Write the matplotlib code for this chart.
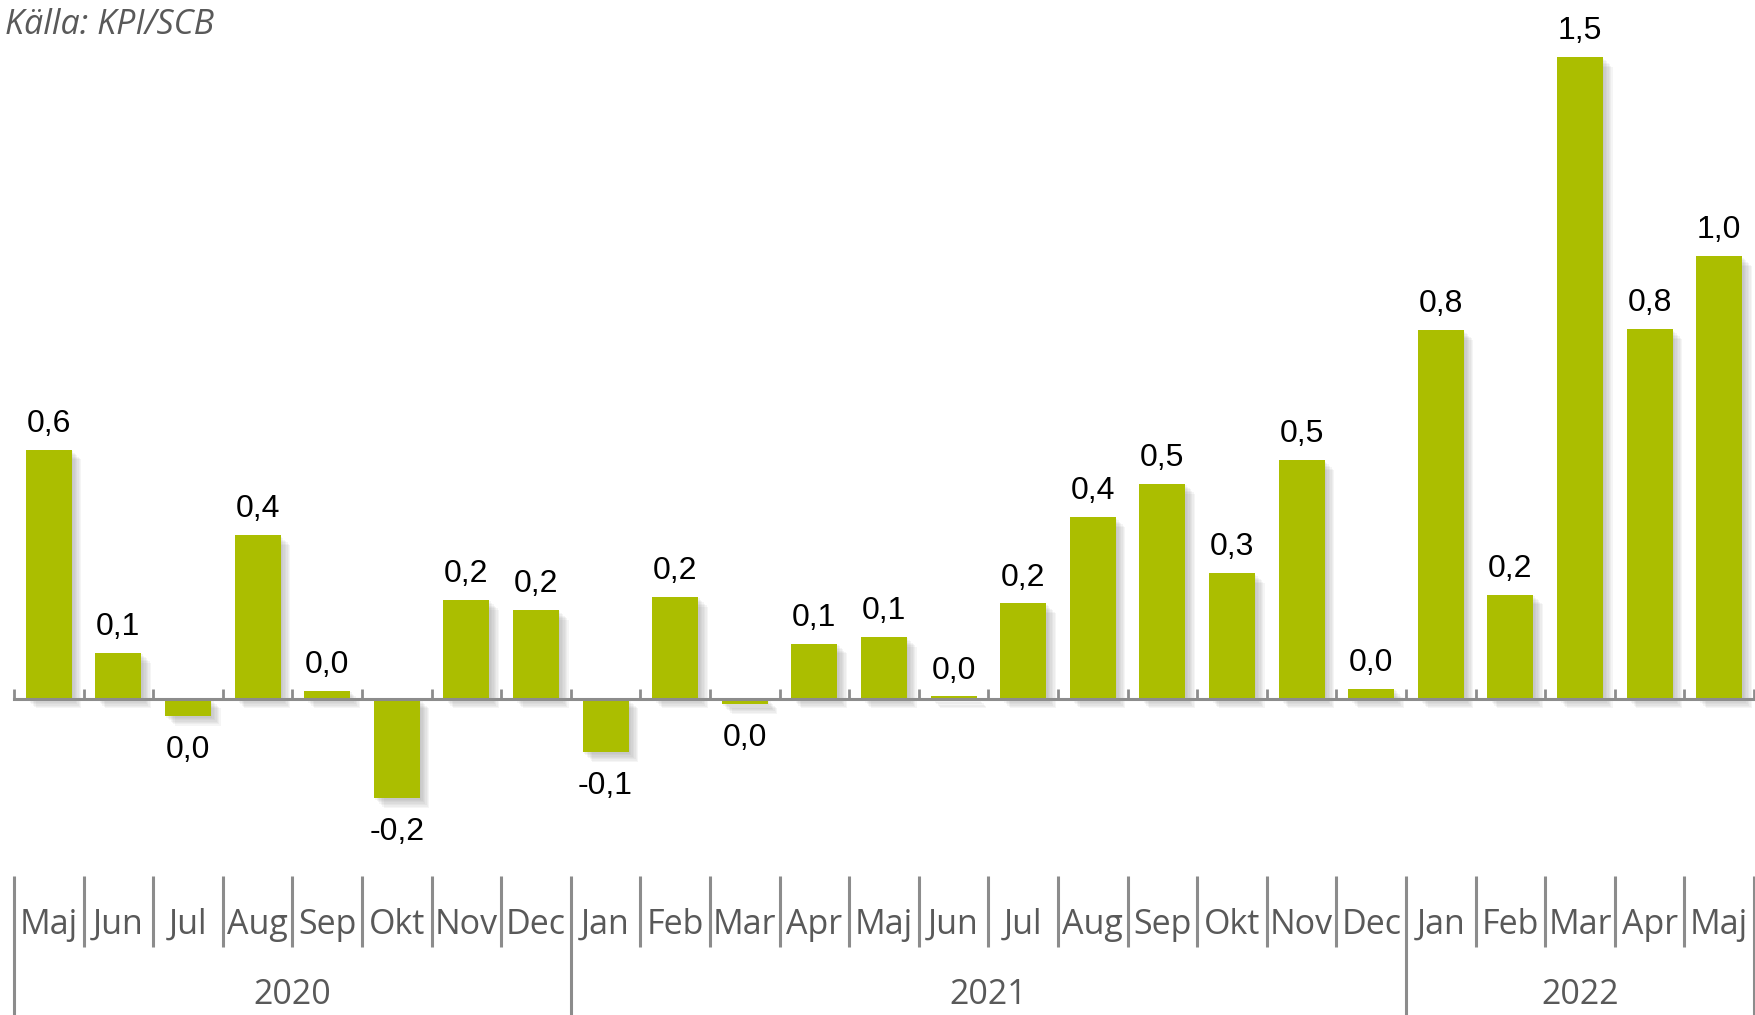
import matplotlib
matplotlib.use('Agg')
import matplotlib.pyplot as plt
import matplotlib.patheffects as pe
import matplotlib.transforms as mtrans
import numpy as np

# Monthly change in KPI, per cent
months = ['Maj', 'Jun', 'Jul', 'Aug', 'Sep', 'Okt', 'Nov', 'Dec',
          'Jan', 'Feb', 'Mar', 'Apr', 'Maj', 'Jun', 'Jul', 'Aug', 'Sep', 'Okt', 'Nov', 'Dec',
          'Jan', 'Feb', 'Mar', 'Apr', 'Maj']
years = ['2020', '2021', '2022']
year_counts = [8, 12, 5]
values = [0.57, 0.105, -0.04, 0.374, 0.018, -0.228, 0.226, 0.203,
          -0.123, 0.233, -0.013, 0.126, 0.141, 0.005, 0.218, 0.415, 0.492, 0.287, 0.546, 0.023,
          0.844, 0.238, 1.469, 0.846, 1.013]
value_labels = ['0,6', '0,1', '0,0', '0,4', '0,0', '-0,2', '0,2', '0,2',
                '-0,1', '0,2', '0,0', '0,1', '0,1', '0,0', '0,2', '0,4', '0,5', '0,3', '0,5', '0,0',
                '0,8', '0,2', '1,5', '0,8', '1,0']

W, H = 1756, 1015
grey = '#8c8c8c'
txt_grey = '#595959'
green = '#ABBE00'

fig = plt.figure(figsize=(W / 100, H / 100), dpi=100)
ax = fig.add_axes([14 / W, (H - 917) / H, 1740 / W, 917 / H])

x = np.arange(len(values))
bars = ax.bar(x, values, width=0.66, color=green, zorder=3)
for b in bars:
    #soft shadow to the lower right
    effects = [pe.SimplePatchShadow(offset=(d, -d), shadow_rgbFace='#808080', alpha=0.075)
               for d in (1, 2, 3, 4, 5, 6, 7)]
    b.set_path_effects(effects + [pe.Normal()])

for i, (v, lbl) in enumerate(zip(values, value_labels)):
    if v >= 0:
        ax.annotate(lbl, (i, v), xytext=(0, 7.9), textcoords='offset points',
                    ha='center', va='bottom', fontsize=23, family='Liberation Sans', color='black')
    else:
        ax.annotate(lbl, (i, v), xytext=(0, -13.5), textcoords='offset points',
                    ha='center', va='top', fontsize=23, family='Liberation Sans', color='black')

ax.set_xlim(-0.5, len(values) - 0.5)
ax.set_ylim(-0.5, 1.6)
for s in ['top', 'left', 'right']:
    ax.spines[s].set_visible(False)
ax.spines['bottom'].set_position(('data', 0))
ax.spines['bottom'].set_color(grey)
ax.spines['bottom'].set_linewidth(2.2)
ax.spines['bottom'].set_zorder(4)
ax.set_xticks(np.arange(-0.5, len(values), 1))
ax.set_xticklabels([])
ax.set_yticks([])
ax.tick_params(axis='x', direction='in', length=7, width=2, color=grey)

#category axis below the chart
trans = mtrans.blended_transform_factory(ax.transData, fig.transFigure)
sep_top = 1 - 876 / H
sep_bot = 1 - 947 / H
month_y = 1 - 925 / H
year_y = 1 - 995 / H

year_edges = np.cumsum([0] + year_counts) - 0.5
for k in range(len(months) + 1):
    xb = k - 0.5
    lo = 0 if xb in year_edges else sep_bot
    ax.plot([xb, xb], [sep_top, lo], transform=trans, color=grey, lw=2.2,
            clip_on=False, solid_capstyle='butt')

for i, m in enumerate(months):
    ax.text(i, month_y, m, transform=trans, ha='center', va='center',
            fontsize=24.5, family='Open Sans', color=txt_grey)

for k, yr in enumerate(years):
    xc = (year_edges[k] + year_edges[k + 1]) / 2
    ax.text(xc, year_y, yr, transform=trans, ha='center', va='center',
            fontsize=24.5, family='Open Sans', color=txt_grey)

fig.text(5 / W, 1 - 25 / H, 'Källa: KPI/SCB', ha='left', va='center', style='italic',
         fontsize=24.5, family='Open Sans', color=txt_grey)

fig.savefig('out.png', dpi=100)
